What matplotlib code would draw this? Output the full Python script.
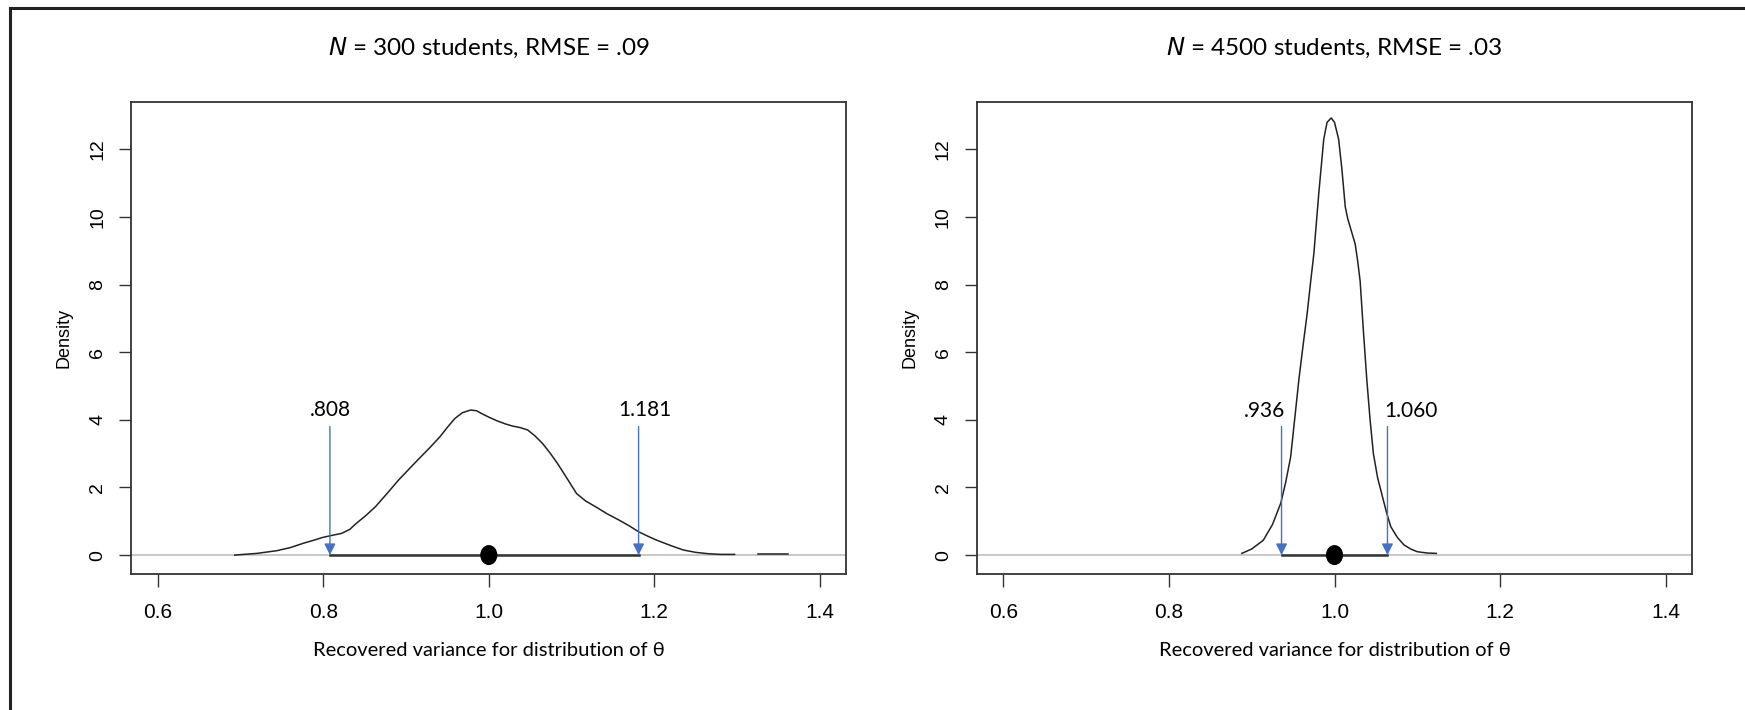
"""
Posterior density of recovered variance, two sample sizes
"""

import matplotlib
matplotlib.use("Agg")
import matplotlib.pyplot as plt
from matplotlib.patches import Ellipse
from matplotlib.lines import Line2D

# ---- data ----
titles = ["$\\mathit{N}$ = 300 students, RMSE = .09",
          "$\\mathit{N}$ = 4500 students, RMSE = .03"]

left_x = [0.693, 0.720, 0.744, 0.760, 0.776, 0.790, 0.799, 0.810, 0.822, 0.832,
          0.840, 0.851, 0.863, 0.877, 0.891, 0.905, 0.918, 0.930, 0.941, 0.950,
          0.959, 0.968, 0.978, 0.985, 0.991, 1.000, 1.010, 1.020, 1.028, 1.038,
          1.047, 1.056, 1.065, 1.074, 1.083, 1.095, 1.106, 1.117, 1.129, 1.143,
          1.157, 1.170, 1.181, 1.192, 1.203, 1.220, 1.235, 1.250, 1.265, 1.280, 1.297]
left_y = [0.00, 0.05, 0.13, 0.22, 0.35, 0.45, 0.52, 0.58, 0.64, 0.76,
          0.94, 1.16, 1.43, 1.82, 2.22, 2.58, 2.91, 3.21, 3.50, 3.78,
          4.04, 4.21, 4.29, 4.27, 4.19, 4.08, 3.97, 3.88, 3.82, 3.77,
          3.70, 3.52, 3.30, 3.02, 2.71, 2.25, 1.82, 1.60, 1.43, 1.22,
          1.04, 0.86, 0.69, 0.56, 0.44, 0.28, 0.15, 0.08, 0.04, 0.02, 0.02]
# small isolated bump in the far right tail
left_tail_x = [1.325, 1.340, 1.362]
left_tail_y = [0.02, 0.02, 0.02]

right_x = [0.888, 0.900, 0.914, 0.925, 0.935, 0.941, 0.947, 0.952, 0.957, 0.962,
           0.967, 0.971, 0.975, 0.978, 0.981, 0.984, 0.987, 0.991, 0.996, 1.000,
           1.005, 1.009, 1.013, 1.016, 1.019, 1.022, 1.025, 1.028, 1.031, 1.035,
           1.039, 1.043, 1.047, 1.052, 1.058, 1.063, 1.068, 1.076, 1.084, 1.092,
           1.100, 1.112, 1.123]
right_y = [0.05, 0.18, 0.44, 0.90, 1.53, 2.15, 2.90, 4.05, 5.20, 6.20,
           7.15, 8.05, 8.90, 9.80, 10.70, 11.50, 12.30, 12.80, 12.93, 12.80,
           12.30, 11.40, 10.30, 9.95, 9.70, 9.45, 9.20, 8.70, 8.10, 6.60,
           5.20, 4.00, 3.00, 2.30, 1.72, 1.25, 0.84, 0.52, 0.30, 0.18,
           0.10, 0.06, 0.05]

ci_lower = [0.808, 0.936]
ci_upper = [1.181, 1.064]
ci_labels = [(".808", "1.181"), (".936", "1.060")]
point_est = [1.0, 1.0]

x_ticks = [0.6, 0.8, 1.0, 1.2, 1.4]
y_ticks = [0, 2, 4, 6, 8, 10, 12]

W, H = 1745, 710
fig = plt.figure(figsize=(W / 100, H / 100), dpi=100)

# outer frame (left and top edges of a document box)
fig.add_artist(Line2D([10 / W, 10 / W], [0, 1 - 8 / H], color="#222222", lw=2.2,
                      transform=fig.transFigure))
fig.add_artist(Line2D([10 / W, 1], [1 - 8 / H, 1 - 8 / H], color="#222222", lw=2.2,
                      transform=fig.transFigure))

ax_w, ax_h = 715 / W, (574 - 102.4) / H
ax_b = (H - 574) / H
axes = [fig.add_axes([131.3 / W, ax_b, ax_w, ax_h]),
        fig.add_axes([977.0 / W, ax_b, ax_w, ax_h])]

curves = [[(left_x, left_y), (left_tail_x, left_tail_y)],
          [(right_x, right_y)]]

blue = "#4472C4"
for i, ax in enumerate(axes):
    ax.set_xlim(0.568, 1.432)
    ax.set_ylim(-0.56, 13.39)
    ax.axhline(0, color="#c8c8c8", lw=1.4, zorder=1)
    for cx, cy in curves[i]:
        ax.plot(cx, cy, color="#222222", lw=1.1, zorder=2)

    # interval line and point estimate
    ax.plot([ci_lower[i], ci_upper[i]], [0, 0], color="#333333", lw=1.8, zorder=3)
    ax.add_patch(Ellipse((point_est[i], 0), 0.019, 0.55, color="black", zorder=4))

    # arrows marking the interval ends
    for xv in (ci_lower[i], ci_upper[i]):
        ax.annotate("", xy=(xv, 0.0), xytext=(xv, 3.8),
                    arrowprops=dict(arrowstyle="-|>", color=blue, lw=1.0,
                                    mutation_scale=17, shrinkA=0, shrinkB=0),
                    zorder=5)
    lo_lab, hi_lab = ci_labels[i]
    if i == 0:
        ax.text(ci_lower[i], 4.3, lo_lab, ha="center", va="center",
                family="Lato", fontsize=15)
        ax.text(ci_upper[i] + 0.008, 4.3, hi_lab, ha="center", va="center",
                family="Lato", fontsize=15)
    else:
        ax.text(ci_lower[i] + 0.004, 4.25, lo_lab, ha="right", va="center",
                family="Lato", fontsize=15)
        ax.text(ci_upper[i] - 0.004, 4.25, hi_lab, ha="left", va="center",
                family="Lato", fontsize=15)

    ax.set_xticks(x_ticks)
    ax.set_xticklabels([f"{t:.1f}" for t in x_ticks], family="Liberation Sans",
                       fontsize=15)
    ax.set_yticks(y_ticks)
    ax.set_yticklabels([str(t) for t in y_ticks], rotation=90, va="center",
                       family="Liberation Sans", fontsize=14)
    ax.tick_params(axis="both", direction="out", length=9, width=1.0,
                   color="#333333", pad=9)
    ax.tick_params(axis="x", pad=12)
    for sp in ax.spines.values():
        sp.set_color("#333333")
        sp.set_linewidth(1.3)

    ax.set_ylabel("Density", family="Liberation Sans", fontsize=13, labelpad=12)
    ax.set_xlabel("Recovered variance for distribution of \u03b8", family="Lato",
                  fontsize=14.5, labelpad=14)
    ax.set_title(titles[i], family="Lato", fontsize=17.5, pad=34)

fig.savefig("out.png", dpi=100, facecolor="white")
